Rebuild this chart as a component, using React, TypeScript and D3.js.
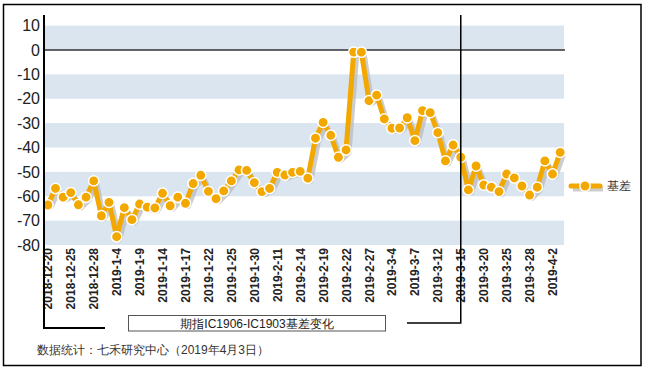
import React from "react";
import * as d3 from "d3";

const dates = [
  "2018-12-20","2018-12-21","2018-12-24","2018-12-25","2018-12-26","2018-12-27","2018-12-28",
  "2019-1-2","2019-1-3","2019-1-4","2019-1-7","2019-1-8","2019-1-9","2019-1-10","2019-1-11","2019-1-14",
  "2019-1-15","2019-1-16","2019-1-17","2019-1-18","2019-1-21","2019-1-22","2019-1-23","2019-1-24","2019-1-25",
  "2019-1-28","2019-1-29","2019-1-30","2019-1-31","2019-2-1","2019-2-11","2019-2-12","2019-2-13","2019-2-14",
  "2019-2-15","2019-2-18","2019-2-19","2019-2-20","2019-2-21","2019-2-22","2019-2-25","2019-2-26","2019-2-27",
  "2019-2-28","2019-3-1","2019-3-4","2019-3-5","2019-3-6","2019-3-7","2019-3-8","2019-3-11","2019-3-12",
  "2019-3-13","2019-3-14","2019-3-15","2019-3-18","2019-3-19","2019-3-20","2019-3-21","2019-3-22","2019-3-25",
  "2019-3-26","2019-3-27","2019-3-28","2019-3-29","2019-4-1","2019-4-2","2019-4-3"
];

const basis = [
  -63.6,-56.8,-60.4,-58.5,-63.5,-60.4,-53.7,-68.0,-62.5,-76.6,-64.7,-69.6,-63.2,-64.5,-64.8,-58.8,
  -63.9,-60.4,-62.9,-54.8,-51.4,-58.0,-61.0,-57.8,-53.7,-49.2,-49.4,-54.4,-58.1,-56.8,-50.2,-51.3,
  -50.2,-49.8,-52.6,-36.2,-29.7,-35.0,-44.0,-41.0,-0.9,-0.9,-20.8,-18.5,-28.3,-32.1,-32.0,-27.8,
  -37.2,-24.9,-25.7,-33.9,-45.5,-39.0,-44.0,-57.4,-47.6,-55.4,-56.3,-58.1,-50.9,-52.5,-55.8,-59.5,
  -56.3,-45.5,-50.9,-42.0
];

const yTicks = [10, 0, -10, -20, -30, -40, -50, -60, -70, -80];
const bands: [number, number][] = [[10, 0], [-10, -20], [-30, -40], [-50, -60], [-70, -80]];
const seriesName = "基差";
const chartTitle = "期指IC1906-IC1903基差变化";
const sourceNote = "数据统计：七禾研究中心（2019年4月3日）";
const markerDate = "2019-3-15";

export default function App() {
  const left = 44, right = 564;
  const x = d3.scaleBand<string>().domain(dates).range([left, right]);
  const y = d3.scaleLinear().domain([-80, 10]).range([245, 25.6]);
  const cx = (d: string) => (x(d) as number) + x.bandwidth() / 2;
  const line = d3.line<number>().x((_, i) => cx(dates[i])).y((v) => y(v));
  const path = line(basis) as string;
  const orange = "#F3A800";
  const labelDates = dates.filter((_, i) => i % 3 === 0);
  const mx = cx(markerDate);

  return (
    <svg width={646} height={369} style={{ position: "absolute", left: 0, top: 0, background: "#fff" }}
      fontFamily="Arial, 'Liberation Sans', sans-serif">
      <rect x={3.5} y={4.5} width={637.5} height={361} fill="#fff" stroke="#000" strokeWidth={1.5} />
      {bands.map(([a, b], i) => (
        <rect key={i} x={left} y={y(a)} width={right - left} height={y(b) - y(a)} fill="#DAE5F0" />
      ))}
      <line x1={left} x2={right + 1} y1={y(0)} y2={y(0)} stroke="#333" strokeWidth={1.5} />
      {yTicks.map((t) => (
        <text key={t} x={40} y={y(t)} dy="0.36em" textAnchor="end" fontSize={16} fill="#222">{t}</text>
      ))}
      {labelDates.map((d) => (
        <text key={d} transform={`translate(${cx(d) + 4.5},${248}) rotate(-90)`} textAnchor="end"
          fontSize={12} fontWeight="bold" fill="#222">{d}</text>
      ))}
      {/* shadow */}
      <path d={path} transform="translate(3,3)" fill="none" stroke="#b8b8b8" strokeOpacity={0.7} strokeWidth={5} strokeLinejoin="round" />
      <path d={path} fill="none" stroke={orange} strokeWidth={5} strokeLinejoin="round" />
      {basis.map((v, i) => (
        <circle key={i} cx={cx(dates[i])} cy={y(v)} r={5.2} fill={orange} stroke="#fff" strokeWidth={1.5} />
      ))}
      {/* axis and marker lines */}
      <path d={`M${left},15 V328 H105`} fill="none" stroke="#000" strokeWidth={2} />
      <path d={`M${mx},15 V323 H407`} fill="none" stroke="#000" strokeWidth={1.5} />
      {/* legend */}
      <line x1={573} x2={603} y1={189} y2={189} stroke="#b8b8b8" strokeOpacity={0.7} strokeWidth={5} />
      <line x1={571} x2={600} y1={186} y2={186} stroke={orange} strokeWidth={5} strokeLinecap="round" />
      <circle cx={585} cy={186} r={5.2} fill={orange} stroke="#fff" strokeWidth={1.5} />
      <text x={607} y={186} dy="0.36em" fontSize={12} fill="#333">{seriesName}</text>
      {/* title box */}
      <rect x={128.5} y={315.5} width={257} height={15.5} fill="#fff" stroke="#555" strokeWidth={1} />
      <text x={257} y={323.5} dy="0.36em" textAnchor="middle" fontSize={12} fill="#222">{chartTitle}</text>
      <text x={37} y={354} fontSize={12} fill="#333">{sourceNote}</text>
    </svg>
  );
}
